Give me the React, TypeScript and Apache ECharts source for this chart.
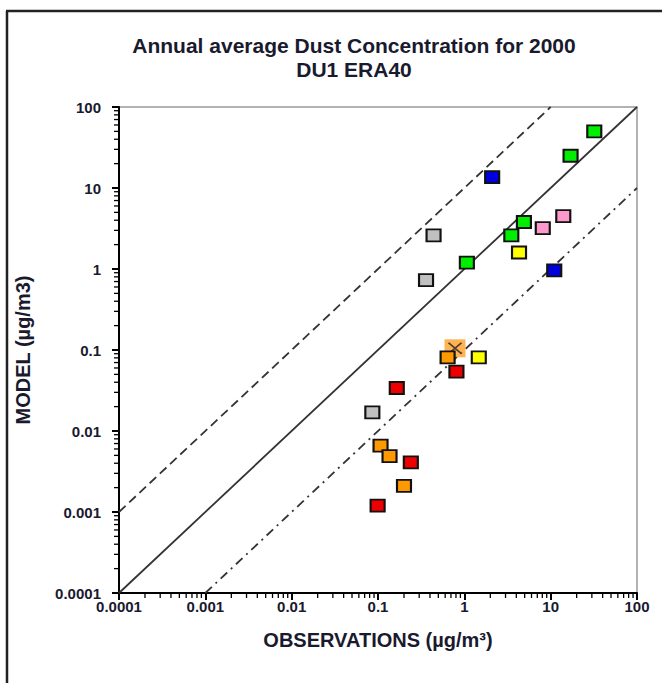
import React, { useEffect, useRef } from 'react';
import * as echarts from 'echarts';

const tickLabels = ['0.0001', '0.001', '0.01', '0.1', '1', '10', '100'];

const titleLine1 = 'Annual average Dust Concentration for 2000';
const titleLine2 = 'DU1 ERA40';
const xName = 'OBSERVATIONS (\u00b5g/m\u00b3)';
const yName = 'MODEL (\u00b5g/m3)';

// observations / model values per station group (colour)
const greenObs = [32, 17, 4.9, 3.5, 1.07];
const greenModel = [50, 25, 3.8, 2.6, 1.2];
const blueObs = [2.1, 11];
const blueModel = [13.6, 0.96];
const grayObs = [0.44, 0.36, 0.086];
const grayModel = [2.6, 0.73, 0.017];
const pinkObs = [14, 8.1];
const pinkModel = [4.5, 3.2];
const yellowObs = [4.3, 1.47];
const yellowModel = [1.6, 0.081];
const orangeObs = [0.64, 0.107, 0.136, 0.2];
const orangeModel = [0.081, 0.0066, 0.0049, 0.0021];
const redObs = [0.81, 0.165, 0.24, 0.099];
const redModel = [0.054, 0.034, 0.0041, 0.0012];
const meanObs = [0.78];
const meanModel = [0.105];

// reference lines 1:1, 10:1, 1:10
const oneToOne = [[0.0001, 0.0001], [100, 100]];
const tenToOne = [[0.0001, 0.001], [10, 100]];
const oneToTen = [[0.001, 0.0001], [100, 10]];

const minorMultipliers = [2, 3, 4, 5, 6, 7, 8, 9];
const decades = [-4, -3, -2, -1, 0, 1];

const pairs = (a: number[], b: number[]) => a.map((v, i) => [v, b[i]]);

const labelFor = (v: number) => {
  const idx = Math.round(Math.log10(v)) + 4;
  return tickLabels[idx] ?? '';
};

const FONT = 'Liberation Sans, Arial, Helvetica, sans-serif';
const TEXT = '#1a1a2e';

export default function App() {
  const ref = useRef<HTMLDivElement>(null);
  useEffect(() => {
    if (!ref.current) return;
    const chart = echarts.init(ref.current, undefined, { renderer: 'svg' });
    const minorVals: number[] = [];
    decades.forEach((e) => minorMultipliers.forEach((m) => minorVals.push(m * Math.pow(10, e))));

    const sq = (name: string, obs: number[], mod: number[], color: string) => ({
      type: 'scatter',
      name,
      data: pairs(obs, mod),
      symbol: 'rect',
      symbolSize: [14, 12],
      itemStyle: { color, borderColor: '#111', borderWidth: 2, opacity: 1 },
      z: 10,
      silent: true,
    });

    const refLine = (data: number[][], type: any) => ({
      type: 'line',
      data,
      symbol: 'none',
      lineStyle: { color: '#333', width: 1.8, type },
      z: 3,
      silent: true,
    });

    const axisCommon = {
      type: 'log',
      logBase: 10,
      min: 0.0001,
      max: 100,
      interval: 1,
      splitLine: { show: false },
      axisLine: { show: true, lineStyle: { color: '#000', width: 2 } },
      axisTick: { show: true, inside: false, length: 7, lineStyle: { color: '#000', width: 2 } },
      nameLocation: 'middle',
      nameTextStyle: { fontFamily: FONT, fontWeight: 'bold', fontSize: 20, color: TEXT },
    };

    chart.setOption({
      animation: false,
      backgroundColor: '#fff',
      grid: {
        left: 119,
        top: 107,
        width: 518,
        height: 486,
        show: true,
        borderColor: '#999',
        borderWidth: 1.5,
        backgroundColor: '#fff',
      },
      graphic: [
        { type: 'line', shape: { x1: 7, y1: 11, x2: 7, y2: 690 }, style: { stroke: '#222', lineWidth: 2.5 } },
        { type: 'line', shape: { x1: 6, y1: 11, x2: 670, y2: 11 }, style: { stroke: '#222', lineWidth: 2.5 } },
        {
          type: 'text',
          x: 354,
          y: 45,
          style: { text: titleLine1, textAlign: 'center', textVerticalAlign: 'middle', font: `bold 21px ${FONT}`, fill: TEXT },
        },
        {
          type: 'text',
          x: 354,
          y: 69,
          style: { text: titleLine2, textAlign: 'center', textVerticalAlign: 'middle', font: `bold 21px ${FONT}`, fill: TEXT },
        },
      ],
      xAxis: {
        ...axisCommon,
        name: xName,
        nameGap: 37,
        axisLabel: { formatter: labelFor, margin: 6, fontFamily: FONT, fontWeight: 'bold', fontSize: 15, color: TEXT },
      },
      yAxis: {
        ...axisCommon,
        name: yName,
        nameGap: 86,
        nameRotate: 90,
        axisLabel: { formatter: labelFor, margin: 18, fontFamily: FONT, fontWeight: 'bold', fontSize: 15, color: TEXT },
      },
      series: [
        refLine(oneToOne, 'solid'),
        refLine(tenToOne, [9, 5]),
        refLine(oneToTen, [9, 5, 2, 5]),
        {
          type: 'custom',
          silent: true,
          clip: false,
          z: 5,
          data: minorVals.map((v) => [v, 0.0001]),
          renderItem: (_p: any, api: any) => {
            const p = api.coord([api.value(0), api.value(1)]);
            return { type: 'line', shape: { x1: p[0], y1: p[1], x2: p[0], y2: p[1] + 5 }, style: { stroke: '#000', lineWidth: 1.3 } };
          },
        },
        {
          type: 'custom',
          silent: true,
          clip: false,
          z: 5,
          data: minorVals.map((v) => [0.0001, v]),
          renderItem: (_p: any, api: any) => {
            const p = api.coord([api.value(0), api.value(1)]);
            return { type: 'line', shape: { x1: p[0] - 5, y1: p[1], x2: p[0], y2: p[1] }, style: { stroke: '#000', lineWidth: 1.3 } };
          },
        },
        {
          type: 'scatter',
          data: pairs(meanObs, meanModel),
          symbol: 'rect',
          symbolSize: [21, 18],
          itemStyle: { color: 'rgba(255,150,20,0.9)' },
          z: 8,
          silent: true,
        },
        {
          type: 'scatter',
          data: pairs(meanObs, meanModel),
          symbol: 'path://M0,0L10,10M10,0L0,10',
          symbolSize: [13, 11],
          itemStyle: { color: 'none', borderColor: '#222', borderWidth: 1.8 },
          z: 9,
          silent: true,
        },
        sq('green', greenObs, greenModel, '#00ee00'),
        sq('blue', blueObs, blueModel, '#0000dd'),
        sq('gray', grayObs, grayModel, '#c0c0c0'),
        sq('pink', pinkObs, pinkModel, '#ff99cc'),
        sq('yellow', yellowObs, yellowModel, '#ffff00'),
        sq('orange', orangeObs, orangeModel, '#ff9900'),
        sq('red', redObs, redModel, '#ee0000'),
      ],
    });
    return () => chart.dispose();
  }, []);
  return <div ref={ref} style={{ position: 'fixed', left: 0, top: 0, width: 662, height: 683 }} />;
}
